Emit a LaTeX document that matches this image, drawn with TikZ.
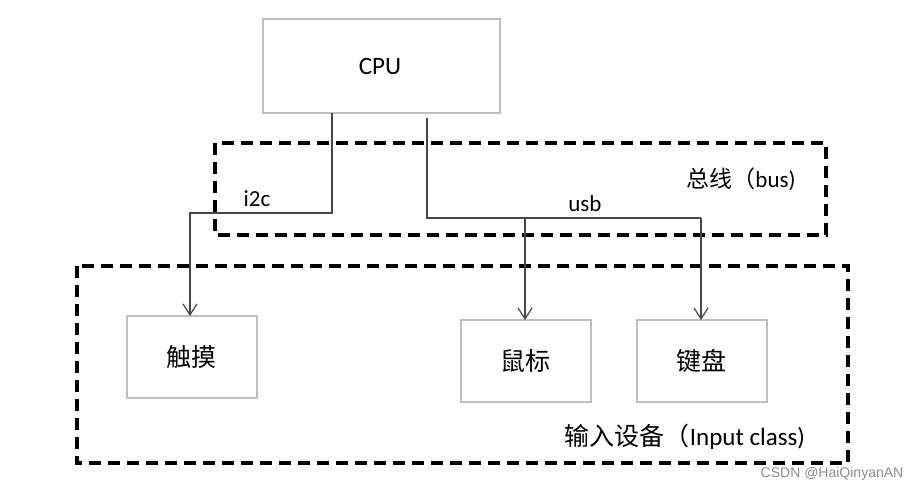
\documentclass[tikz,border=0pt]{standalone}
\usepackage{fontspec}
\setmainfont{Carlito}
\newfontfamily\cjk{Noto Sans CJK SC}
\newfontfamily\wm{Liberation Sans}
\usetikzlibrary{arrows.meta}
\begin{document}
\begin{tikzpicture}[x=1pt,y=-1pt,
  box/.style={draw=black!25,line width=1.2pt},
  grp/.style={draw=black,line width=3.3pt,dash pattern=on 12pt off 7pt},
  conn/.style={draw=black!72,line width=1.4pt},
  arr/.style={conn,-{Straight Barb[length=11pt,width=14pt,line width=1.2pt]}},
  lbl/.style={inner sep=0pt,anchor=base}]
\useasboundingbox (0,0) rectangle (924,490);
% groups
\draw[grp] (215,143) rectangle (826,235);
\draw[grp] (77,266) rectangle (848,463);
% boxes
\draw[box] (263,19) rectangle (500,113);
\node (cpu) at (380,66) {\fontsize{25}{27}\selectfont CPU};
\coordinate (cpuL) at (332,113);
\coordinate (cpuR) at (427,118);
\draw[box] (127,316) rectangle (257,398);
\coordinate (touch) at (190,316);
\node (ttxt) at (191,357) {\cjk\fontsize{25}{27}\selectfont 触摸};
\draw[box] (461,320) rectangle (591,402);
\coordinate (mouse) at (525,320);
\node (mtxt) at (525,361) {\cjk\fontsize{25}{27}\selectfont 鼠标};
\draw[box] (637,320) rectangle (767,402);
\coordinate (kbd) at (701,320);
\node (ktxt) at (701,361) {\cjk\fontsize{25}{27}\selectfont 键盘};
% connectors
\coordinate (i2cc) at (332,213);
\coordinate (i2cl) at (190,213);
\draw[arr] (cpuL) -- (i2cc) -- (i2cl) -- (touch);
\coordinate (usbc) at (427,218);
\coordinate (usbm) at (525,218);
\coordinate (usbk) at (701,218);
\draw[conn] (cpuR) -- (usbc) -- (usbk);
\draw[arr] (usbm) -- (mouse);
\draw[arr] (usbk) -- (kbd);
% labels
\node[lbl] (i2c) at (257,206) {\fontsize{23}{25}\selectfont i2c};
\node[lbl] (usb) at (585,211) {\fontsize{23}{25}\selectfont usb};
\node[lbl] (bus) at (741,187) {\fontsize{23}{25}\selectfont{\cjk 总线（}bus)};
\node[lbl] (inp) at (685,445) {\fontsize{25}{27}\selectfont{\cjk 输入设备（}Input class)};
\node[lbl,text=black!45] (wm) at (832,477) {\wm\fontsize{14}{15}\selectfont CSDN @HaiQinyanAN};
\end{tikzpicture}
\end{document}
